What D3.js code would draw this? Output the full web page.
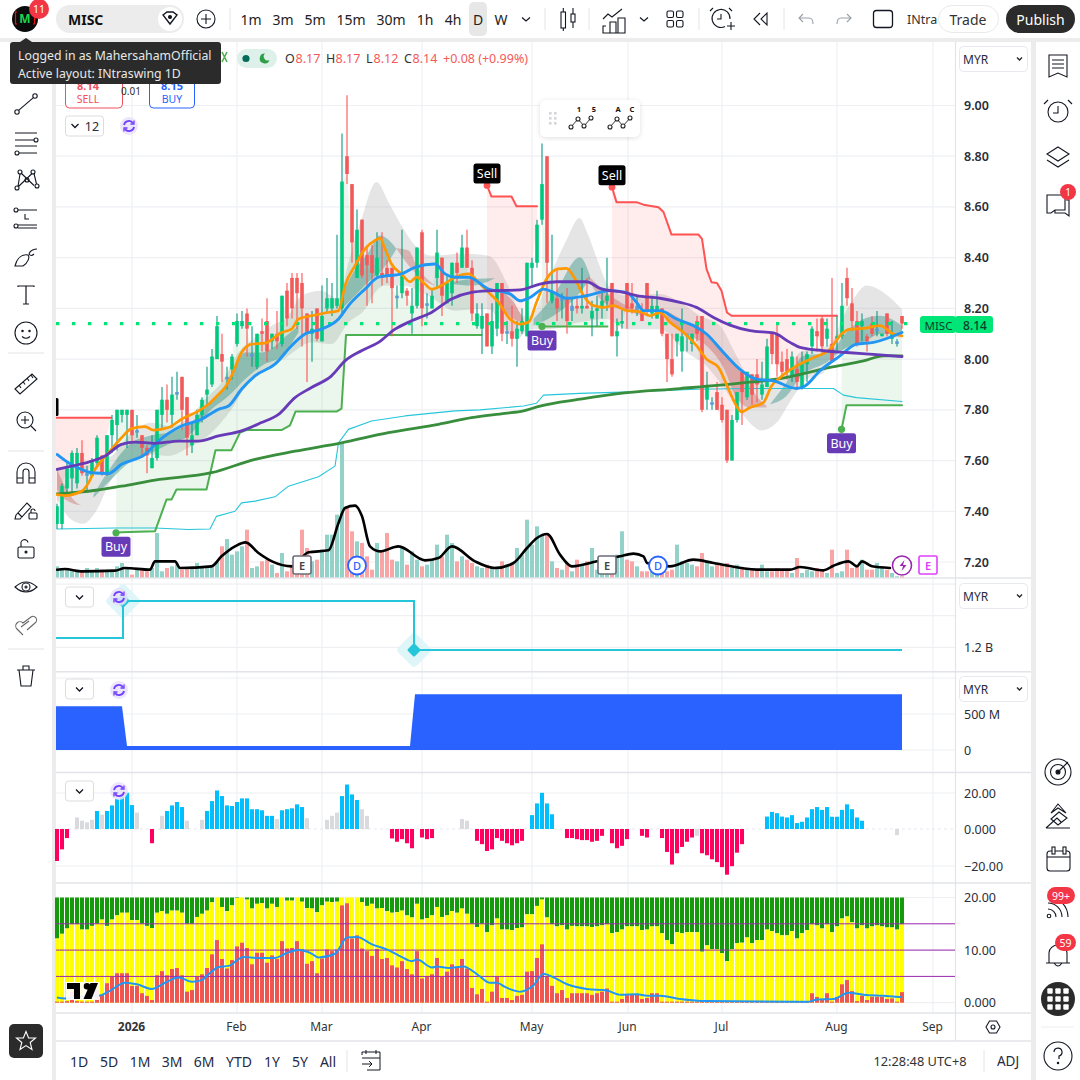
<!DOCTYPE html>
<html><head><meta charset="utf-8">
<script src="https://cdn.jsdelivr.net/npm/d3@7/dist/d3.min.js"></script>
<style>html,body{margin:0;padding:0;background:#ececec;overflow:hidden}svg{display:block;font-family:"Noto Sans",sans-serif}</style>
</head><body><svg id="c" width="1080" height="1080" xmlns="http://www.w3.org/2000/svg"></svg>
<script>
// ---------- candles ----------
const opens=[7.35,7.35,7.49,7.53,7.51,7.63,7.54,7.54,7.59,7.62,
7.55,7.70,7.74,7.78,7.78,7.80,7.71,7.70,7.65,7.57,
7.61,7.78,7.84,7.78,7.86,7.93,7.85,7.66,7.70,7.78,
7.86,7.90,8.00,8.02,7.92,7.96,8.06,8.13,8.18,8.01,
7.97,8.11,8.15,8.07,8.10,8.06,8.27,8.32,8.32,8.30,
8.18,8.10,8.20,8.07,8.20,8.20,8.21,8.20,8.80,8.69,
8.32,8.55,8.41,8.41,8.33,8.34,8.36,8.36,8.24,8.26,
8.27,8.18,8.21,8.50,8.21,8.20,8.32,8.40,8.22,8.26,
8.38,8.36,8.44,8.36,8.13,8.12,8.18,8.05,8.12,8.30,
8.10,8.11,8.08,8.11,8.09,8.36,8.38,8.55,8.80,8.23,
8.24,8.23,8.24,8.19,8.21,8.20,8.21,8.16,8.19,8.21,
8.23,8.30,8.09,8.14,8.30,8.22,8.19,8.19,8.30,8.18,
8.16,8.20,8.10,8.00,8.07,8.03,8.09,8.06,8.15,8.17,
7.84,7.82,7.87,7.82,7.80,7.60,7.76,7.95,7.85,7.94,
7.94,7.86,7.89,8.10,8.10,7.99,8.00,7.93,7.96,7.89,
7.98,8.05,8.11,8.16,8.08,8.06,8.08,8.09,8.32,8.22,
8.15,8.13,8.09,8.14,8.11,8.09,8.18,8.08,8.06,8.17];
const closes=[7.42,7.50,7.57,7.63,7.63,7.55,7.55,7.60,7.69,7.55,
7.70,7.76,7.80,7.80,7.80,7.70,7.72,7.65,7.62,7.61,
7.80,7.84,7.80,7.86,7.87,7.80,7.69,7.70,7.78,7.84,
7.88,8.01,8.13,7.99,7.93,8.01,8.15,8.15,8.12,8.02,
8.10,8.10,8.03,8.10,8.07,8.25,8.16,8.20,8.26,8.20,
8.10,8.12,8.08,8.17,8.24,8.24,8.24,8.70,8.73,8.46,
8.51,8.33,8.37,8.34,8.40,8.32,8.33,8.28,8.25,8.33,
8.25,8.21,8.44,8.20,8.22,8.25,8.42,8.25,8.30,8.38,
8.34,8.44,8.36,8.18,8.18,8.17,8.05,8.15,8.30,8.10,
8.11,8.08,8.12,8.15,8.38,8.38,8.53,8.69,8.38,8.27,
8.20,8.24,8.15,8.21,8.20,8.21,8.20,8.19,8.20,8.23,
8.25,8.09,8.11,8.15,8.20,8.20,8.21,8.15,8.19,8.21,
8.21,8.10,8.00,7.94,8.10,8.09,8.10,8.10,8.10,7.80,
7.89,7.83,7.80,7.76,7.60,7.76,7.87,7.87,7.95,7.86,
7.90,7.90,8.05,8.02,7.98,7.95,7.95,8.01,7.91,7.98,
8.02,8.12,8.09,8.05,8.12,7.99,8.09,8.21,8.24,8.15,
8.06,8.15,8.07,8.10,8.12,8.10,8.10,8.10,8.07,8.14];
const highs=[7.43,7.51,7.59,7.64,7.65,7.68,7.58,7.61,7.70,7.62,
7.70,7.78,7.80,7.80,7.80,7.80,7.78,7.70,7.66,7.70,
7.80,7.89,7.90,7.93,7.95,7.93,7.85,7.75,7.80,7.85,
7.97,8.04,8.17,8.10,7.97,8.02,8.18,8.19,8.20,8.13,
8.10,8.16,8.24,8.10,8.19,8.25,8.30,8.34,8.34,8.34,
8.18,8.19,8.20,8.29,8.32,8.30,8.49,8.89,9.04,8.69,
8.59,8.55,8.45,8.45,8.50,8.50,8.39,8.36,8.29,8.51,
8.28,8.28,8.44,8.51,8.26,8.28,8.51,8.40,8.33,8.38,
8.42,8.49,8.51,8.39,8.22,8.22,8.18,8.22,8.30,8.30,
8.15,8.21,8.15,8.20,8.38,8.40,8.55,8.85,8.80,8.49,
8.36,8.26,8.28,8.24,8.24,8.36,8.32,8.23,8.25,8.28,
8.40,8.30,8.16,8.20,8.30,8.30,8.25,8.22,8.30,8.25,
8.27,8.20,8.10,8.10,8.10,8.20,8.10,8.10,8.17,8.17,
7.95,7.85,7.91,7.85,7.80,7.78,7.87,7.95,7.95,7.94,
8.00,7.99,8.08,8.10,8.14,8.03,8.04,8.03,8.01,8.03,
8.03,8.13,8.16,8.17,8.16,8.32,8.17,8.30,8.36,8.28,
8.19,8.18,8.10,8.17,8.19,8.10,8.18,8.15,8.08,8.17];
const lows=[7.33,7.33,7.47,7.47,7.49,7.54,7.48,7.54,7.58,7.54,
7.54,7.63,7.64,7.75,7.65,7.67,7.69,7.61,7.55,7.57,
7.60,7.72,7.75,7.73,7.84,7.72,7.62,7.63,7.70,7.75,
7.82,7.89,8.00,7.91,7.88,7.92,8.05,8.12,8.01,7.97,
7.96,8.03,7.99,8.04,8.04,8.05,8.13,8.16,8.12,8.05,
7.91,7.99,8.07,8.07,8.18,8.17,8.20,8.18,8.69,8.38,
8.32,8.32,8.21,8.22,8.32,8.29,8.30,8.09,8.20,8.24,
8.21,8.10,8.20,8.13,8.16,8.20,8.28,8.17,8.22,8.21,
8.30,8.36,8.36,8.15,8.12,8.02,8.05,8.02,8.09,8.07,
8.06,8.05,7.97,8.10,8.09,8.28,8.36,8.53,8.22,8.22,
8.15,8.16,8.10,8.15,8.18,8.18,8.20,8.09,8.13,8.16,
8.19,8.09,8.01,8.12,8.12,8.18,8.17,8.15,8.17,8.16,
8.16,8.09,7.91,7.93,8.01,7.95,8.03,8.03,8.07,7.79,
7.80,7.80,7.80,7.75,7.59,7.60,7.75,7.74,7.84,7.82,
7.83,7.84,7.89,7.98,7.93,7.93,7.92,7.91,7.89,7.88,
7.91,8.02,8.03,8.02,8.05,7.99,8.03,8.08,8.21,8.11,
8.05,8.07,8.03,8.09,8.09,8.09,8.09,8.06,8.05,8.12];
const dojiBars=[6,16,24,34,39,68,74,90,101,103,116,126,131,164,168];
// ---------- volume (millions) ----------
const volumes=[3.5,3,2.5,2,2.5,2,3,2,3,2.5,
2.5,2,3.5,4.5,3,1,2.5,3,2.5,3,
13.5,2,3,3.5,4,2.5,3,3.5,4.5,3,
3.5,3.5,5,9.5,11.7,7,8,9.5,14.5,3,
3.5,5,5.5,4,1.5,7.5,2,4,5,14.5,
9,5,5.5,8.5,13,13,19,40.5,21.5,14,
11,10.5,6.5,2.5,10.5,8,13.5,5.5,5,9,
4,8,5.5,3.5,4,5.5,10,6.5,13,10.5,
5,6.5,5.5,4.5,3.5,3,4,3,3.5,5,
4,4.5,9,7,17.5,10,15.5,13,13.5,5,
3,2.5,4.5,2,5.5,4,5,9,2.5,2,
2,2,7,14,5.5,5,3.5,2,2,2.5,
2,3,2,2.5,10,5,4.5,4,3.5,7.5,
5,3.5,4.5,4,4.5,3,4,3,2.5,2.5,
2.5,4,2,2,3,2.5,2.5,1.5,6,1.5,
2.5,2,3,2.5,1.5,8.5,1.5,2,8.5,3,
4,5.5,2.5,2.5,4.5,3,2.5,1.5,.5,.5];
const volumeAvg=[[0,2.5],[1.6,2.7],[4.9,2],[11.6,2.2],[13.6,3],[18.6,2.5],[19.6,5],[23.6,5],[24.6,3],[30.9,3.5],[32.9,6.5],[35.6,9.5],[37.7,10.7],[40.3,7.5],[43,5],[47,3.5],[50.3,7.7],[54.3,8.3],[56.3,16.5],[57.6,21],[59.6,21.7],[61,18.5],[62.6,9.5],[64.6,8],[68.3,9.5],[73.6,5.3],[76.3,6],[79,9.5],[83.6,5],[87.6,3],[91.3,4.5],[94,9],[96,12],[98,13.2],[100.6,7],[103,3.5],[108,5],[112.6,6.5],[115.3,7.3],[117.3,6.5],[118,4.5],[122.6,3.5],[127.3,5.5],[131.3,4.5],[140,2.5],[146.6,2.5],[148.6,3.3],[153.3,2.3],[155.3,3.7],[158.3,5],[160,3.5],[161,5],[163,3.5],[166.6,3]];
// ---------- moving averages [bar, price] ----------
const orangeLine=[[0,7.466],[1.6,7.462],[4.9,7.479],[6.3,7.512],[7.6,7.565],[10.3,7.631],[12.9,7.69],[14.9,7.726],[17.6,7.734],[19.3,7.72],[22.3,7.73],[24.9,7.763],[28.3,7.796],[30.3,7.822],[32.3,7.861],[33.6,7.888],[34.9,7.934],[36.9,8.026],[38.9,8.059],[41.6,8.063],[44.9,8.105],[46.9,8.118],[48.3,8.158],[50.9,8.171],[53.6,8.182],[56.3,8.191],[57.6,8.29],[59.6,8.369],[61.6,8.435],[63.6,8.468],[64.6,8.477],[65.6,8.435],[66.9,8.375],[68.9,8.336],[70.6,8.305],[71.9,8.323],[73.6,8.296],[74.9,8.276],[76.9,8.29],[79.6,8.323],[82.3,8.336],[84.3,8.303],[86.3,8.263],[88.3,8.224],[90.6,8.158],[92.6,8.138],[94.3,8.145],[95.9,8.224],[97.9,8.316],[100.3,8.356],[101.9,8.358],[103.6,8.316],[105.3,8.25],[107.3,8.211],[109.3,8.204],[111.3,8.211],[113.9,8.191],[116.6,8.187],[118.6,8.171],[120.6,8.184],[122.6,8.145],[125.3,8.105],[127.9,8.053],[129.9,8],[132.3,7.967],[134.3,7.881],[135.9,7.815],[136.9,7.792],[138.6,7.809],[141.3,7.829],[142.9,7.894],[144.6,7.927],[147.9,7.973],[151.3,8.006],[154.6,8.039],[156.9,8.099],[158.6,8.118],[161.3,8.121],[164.6,8.132],[167.3,8.099],[169,8.092]];
const blueLine=[[0,7.624],[2.3,7.591],[4.9,7.565],[6.9,7.552],[10.3,7.549],[12.9,7.585],[17.6,7.624],[20.3,7.677],[24.9,7.736],[28.9,7.763],[32.3,7.802],[34.3,7.815],[36.9,7.881],[39.6,7.934],[43.6,7.98],[46.9,8.053],[49.6,8.099],[52.9,8.118],[56.3,8.158],[58.3,8.211],[61.6,8.276],[64.3,8.323],[68.9,8.336],[71.6,8.362],[75.6,8.375],[77.6,8.336],[79.6,8.323],[82.3,8.323],[86.3,8.276],[89.6,8.263],[90.6,8.257],[92.6,8.23],[94.6,8.243],[97.3,8.276],[99.3,8.263],[101.9,8.24],[105.9,8.25],[110.6,8.27],[113.9,8.263],[115.9,8.224],[117.3,8.191],[120.6,8.191],[123.9,8.158],[127.3,8.132],[129.9,8.099],[133.3,8.026],[136.6,7.96],[139.9,7.921],[143.3,7.914],[147.9,7.884],[149.6,7.894],[152.6,7.954],[156.6,8.013],[159.9,8.059],[163.3,8.066],[169,8.105]];
const purpleLine=[[0,7.565],[2.9,7.578],[6.3,7.594],[9.6,7.618],[12.9,7.664],[15.6,7.673],[19.6,7.668],[24.3,7.677],[28.3,7.677],[32.3,7.697],[36.9,7.717],[40.9,7.75],[44.3,7.782],[47.6,7.848],[50.9,7.888],[54.9,7.934],[57.6,7.993],[60.9,8.033],[64.3,8.066],[67.6,8.118],[70.9,8.151],[74.9,8.184],[78.9,8.237],[82.9,8.263],[86.3,8.269],[88,8.27],[92.6,8.273],[96.6,8.296],[100,8.305],[105.9,8.305],[108.6,8.279],[113.3,8.263],[115.9,8.25],[120.6,8.24],[124.6,8.224],[127.9,8.204],[131.3,8.164],[134.6,8.134],[138.6,8.112],[143.3,8.103],[146.6,8.066],[148.6,8.046],[153.3,8.033],[157.9,8.026],[164.6,8.017],[169,8.01]];
const darkGreenLine=[[0,7.469],[6.3,7.479],[12.9,7.499],[19.6,7.523],[30.9,7.552],[39.6,7.605],[47.6,7.637],[56.9,7.67],[66.3,7.71],[76.3,7.743],[82.9,7.769],[89.6,7.786],[93.3,7.796],[96.6,7.815],[104.6,7.842],[112.6,7.865],[124.6,7.884],[136.6,7.905],[144.6,7.923],[154.6,7.967],[161.3,7.993],[165.3,8.013],[169,8.013]];
const cyanLine=[[0,7.33],[11.6,7.334],[19.6,7.334],[26.3,7.328],[30.6,7.33],[31.9,7.38],[35.6,7.4],[36.9,7.433],[39.6,7.44],[43.6,7.457],[46.3,7.499],[52.3,7.536],[55.6,7.578],[56.3,7.67],[58.3,7.723],[62.9,7.756],[69.6,7.776],[79.6,7.796],[84.6,7.8],[93.3,7.815],[95.9,7.826],[97.3,7.858],[104.6,7.865],[114.6,7.871],[127.9,7.881],[137.9,7.884],[155.3,7.884],[157.3,7.858],[159.9,7.848],[169,7.833]];
// ---------- trailing stops [bar, price] ----------
const supportA=[[11.8,7.315],[12.9,7.317],[19.6,7.321],[21.9,7.446],[22.9,7.446],[23.9,7.486],[29.9,7.486],[31.7,7.641],[34.9,7.641],[36.6,7.71],[37.9,7.72],[44.9,7.72],[46.6,7.739],[47.7,7.793],[55.9,7.793],[56.9,7.805],[57.8,8.095],[84.9,8.095]];
const supportB=[[97,8.129],[110.1,8.129]];
const supportC=[[156.9,7.723],[157.9,7.818],[169,7.818]];
const resistA=[[-1,7.769],[10.8,7.769]];
const resistB=[[86,8.685],[86.9,8.641],[90.9,8.641],[91.9,8.603],[96,8.603]];
const resistC=[[111,8.678],[111.9,8.619],[115.9,8.619],[117.3,8.609],[120.3,8.599],[121.3,8.58],[122.9,8.491],[128.3,8.491],[129,8.474],[129.9,8.356],[130.9,8.303],[132,8.3],[132.9,8.27],[134,8.184],[134.9,8.171],[156,8.171]];
// ---------- bands [bar, price] ----------
const grayUpper=[[0,7.565],[5.3,7.578],[10.9,7.618],[14.9,7.71],[18.9,7.749],[22.9,7.736],[26.3,7.769],[29.6,7.842],[32.9,7.908],[36.3,8.026],[39.6,8.085],[42.9,8.132],[46.3,8.171],[48.9,8.25],[52.9,8.27],[56.3,8.237],[58.3,8.382],[60.9,8.553],[63.9,8.698],[66.3,8.619],[68.9,8.527],[71.6,8.448],[74.9,8.408],[80.9,8.415],[86.3,8.408],[87.3,8.395],[89.9,8.303],[93.3,8.171],[94.6,8.171],[98.6,8.329],[102,8.474],[104.5,8.556],[106,8.5],[108,8.395],[110.3,8.29],[113.9,8.25],[120.6,8.257],[124.6,8.224],[128.6,8.171],[132.6,8.132],[135.9,8.013],[137.9,7.947],[144.6,7.921],[148.6,8.026],[154.6,8.059],[157.3,8.171],[159.3,8.237],[161.9,8.29],[165.3,8.263],[169,8.197]];
const grayLower=[[0,7.446],[2.9,7.367],[5.3,7.351],[7.6,7.394],[10.9,7.526],[14.9,7.605],[18.9,7.624],[22.3,7.618],[26.3,7.651],[30.9,7.71],[34.9,7.802],[38.3,7.908],[42.3,7.96],[46.3,8.013],[50.9,8.066],[54.9,8.059],[58.3,8.145],[61.6,8.197],[63.6,8.263],[65.6,8.29],[68.9,8.29],[74.3,8.25],[79.6,8.191],[83.6,8.197],[86.3,8.197],[89.3,8.125],[91.9,8.079],[94.6,8.118],[98.6,8.118],[104.6,8.145],[109.9,8.158],[113.9,8.118],[120.6,8.118],[125.9,8.026],[129.9,7.973],[132.6,7.908],[135.9,7.815],[137.9,7.763],[140.9,7.719],[143.9,7.749],[146.9,7.842],[149.6,7.914],[153.3,7.947],[156.6,8.026],[159.3,8.053],[163.3,8.072],[169,8.085]];
const tealA=[[[7.3,7.466],[10.9,7.578],[14.9,7.67],[18.3,7.697],[23.6,7.717],[26.3,7.743],[30.9,7.835],[34.3,7.914],[37.6,8.026],[40.9,8.026],[46.3,8.099],[48.3,8.132]],[[7.3,7.453],[10.9,7.526],[14.9,7.598],[18.3,7.624],[22.3,7.664],[26.3,7.697],[30.9,7.802],[34.3,7.855],[37.6,7.921],[40.9,7.973],[44.9,8.013],[48.3,8.105]]];
const tealB=[[[56.9,8.25],[58.9,8.329],[62.3,8.421],[64.6,8.487],[67.9,8.435]],[[56.9,8.197],[59.6,8.25],[62.9,8.316],[64.6,8.342],[67.9,8.435]]];
const tealD=[[[78.9,8.303],[83,8.316],[87.6,8.319]],[[78.9,8.296],[83,8.29],[87.6,8.319]]];
const tealF=[[[95.3,8.158],[99.3,8.25],[104.6,8.402],[106.6,8.329]],[[95.3,8.132],[99.3,8.171],[104.6,8.263],[106.6,8.316]]];
const tealI=[[[142.6,7.822],[145.9,7.908],[149.3,8.013],[154.6,8.026],[157.3,8.092],[161.3,8.158],[164.6,8.171],[169,8.132]],[[142.6,7.822],[145.9,7.855],[148.9,7.934],[153.9,7.987],[157.3,8.039],[161.3,8.066],[164.6,8.099],[169,8.099]]];
const redL=[[[0,7.565],[1.6,7.499],[3.6,7.44],[5.3,7.423],[6.9,7.46]],[[0,7.486],[1.6,7.446],[5.3,7.423],[6.9,7.46]]];
const redC=[[[67.9,8.437],[70.3,8.428],[71.9,8.369],[75.6,8.29]],[[67.9,8.435],[70.9,8.356],[72.9,8.316],[75.6,8.29]]];
const redE=[[[89.3,8.263],[91.3,8.224],[93.3,8.158]],[[89.3,8.197],[91.3,8.158],[93.3,8.145]]];
const redG=[[[106.3,8.329],[109.9,8.263],[113.9,8.211],[117.3,8.184]],[[106.3,8.316],[109.3,8.224],[113.9,8.191],[117.3,8.171]]];
const redH=[[[121.9,8.191],[125.9,8.145],[129.9,8.092],[133.9,8.013],[137.3,7.934],[139.9,7.855],[141.9,7.815]],[[121.9,8.151],[125.9,8.099],[129.9,8.053],[133.3,7.967],[135.9,7.848],[138.6,7.809],[141.9,7.809]]];
// ---------- signals ----------
const buyBars=[11.8,97,156.9], buyPrices=[7.315,8.129,7.723];
const sellBars=[86,111], sellPrices=[8.685,8.678];
const eventBars=[49,60,110,120.2], eventKinds=["E","D","E","D"];
// ---------- lower panes ----------
const pane2Line=[[-0.2,1.259],[13.2,1.259],[13.2,1.493],[71.4,1.493],[71.4,1.183],[169,1.183]];
const pane3Area=[[-0.2,609],[13,609],[14,55],[70.6,55],[71.6,776],[169,776]];
const hist=[-17.3,-11,-4.9,0,6.4,4.6,3.7,5.1,10,8,
10,13.1,16.8,18.6,20.1,13.3,9.1,0,0,-7.7,
0,7.3,10,13.1,15,12.2,4.6,0,0,5.1,
10,15.5,21.4,18.3,13.1,12.8,15,17,17,11,
11,10.4,7.3,7.3,5.5,10.4,11,11.5,13.7,12.2,
6,0,0,0,5.1,7.3,9.1,18.3,24.7,19.2,
16.1,11,7.3,0,0,0,0,-5.1,-6.9,-5.5,
-7.7,-10.4,0,-4.6,-5.5,-4.9,0,0,0,0,
0,5.5,4.6,0,-6.4,-8.2,-11.9,-11,-4.9,-6.4,
-7.7,-8.8,-7.7,-6.4,0,7.7,14.2,20.1,14.2,8.2,
0,0,-4.9,-4.9,-5.5,-6,-6,-6.9,-6.4,-3.7,
0,-7.7,-10.4,-9.1,-5.5,0,0,-3.7,-4.6,0,
0,-4.9,-12.4,-19.2,-13.1,-9.7,-6.9,-4.6,-3.7,-13.1,
-14.2,-16.4,-17.9,-20.6,-24.7,-20.1,-12.8,-8.2,0,0,
0,0,6.9,9.5,8.8,6.9,6.4,7.7,3.3,4,
6.4,11,12.2,10.6,12.2,6.8,6.8,10.6,13.7,11,
6.4,4.6,0,0,0,0,0,0,-3.3,0];
const histGray=[4,5,6,7,9,16,21,26,29,44,50,54,55,56,61,62,81,82,128,168];
const stackYellow=[12.2,13.1,14.1,14.9,14.9,13.9,13.9,14.6,15,15.8,
14.6,15.8,16.6,17.1,17.1,15.7,15.7,15,14.6,14.2,
17.1,17.4,16.9,17.5,17.5,17.1,15,15,16.3,16.9,
17.5,19.1,20,18.2,17.4,18.5,19.9,20,19.6,17.9,
18.8,18.9,17.9,18.8,18.2,20,19.4,19.4,20,19.2,
18,17.9,17.2,18.5,19.2,19.1,19.2,20,20,20,
20,19.1,18.4,18.8,17.9,18,17.4,17.1,17.2,17.5,
16.6,16.2,18.8,15.8,16.1,16.6,18.2,16.3,16.6,17.4,
17.1,17.9,16.9,15,14.4,15,13.4,14.7,16,13.9,
13.9,13.8,14.2,14.3,16.8,16.8,18.4,19.6,16.2,14.9,
14.5,14.7,13.9,14.6,14.5,14.5,14.5,14.4,14.5,14.7,
14.9,13.2,13.4,13.9,14.5,14.5,14.5,13.8,13.9,14.5,
14.5,13.2,11.9,11.1,13.4,13.2,13.4,13.4,13.4,9.7,
10.9,10.2,10.2,9.4,7.9,10.2,11.3,11.4,12.4,11.3,
11.9,11.9,13.9,13.6,13.2,12.8,12.8,13.6,12.2,13.2,
13.8,14.9,14.7,14.1,14.9,13.4,14.5,16,16.4,15.3,
14.1,14.7,14.1,14.5,14.7,14.5,14.3,14.3,13.9,14.9];
const stackRed=[.2,.2,.3,2.1,.3,.2,.2,.2,2.4,1.5,
3.7,4.9,5.6,5.6,5.6,3.2,3.2,1.8,1.3,.5,
5.2,6,5.2,6.4,6.6,5.2,2.1,2.4,4.9,5.4,
6.6,9.2,11.9,8.3,6.5,8.1,10.7,11.4,10.4,7.3,
9.5,9.5,7.6,9,8.3,11.7,10.3,10.4,11.7,10.2,
7.4,7.9,5.6,8.4,10.1,9.8,10.1,18.5,18.9,12.2,
12.8,10.3,9.8,8.9,10.2,8.3,8.5,7.1,6.7,7.9,
6.4,5.4,9.8,4.6,4.9,5.4,8.5,5,5.9,7.3,
6.6,8.3,6.5,2.8,1.6,2.6,.2,2.1,4.9,.9,
.9,.5,1.3,1.5,5.9,6,8.5,11.1,4.9,3.2,
1.8,2.4,.9,1.8,1.8,1.8,1.8,1.5,1.8,2.1,
2.7,.2,.2,.7,1.5,1.5,1.5,.7,.9,1.8,
1.8,.2,.2,.2,.2,.2,.2,.2,.2,.2,
.2,.2,.2,.2,.2,.2,.2,.2,.2,.2,
.2,.2,.2,.2,.2,.2,.2,.2,.2,.2,
.2,1.8,1.1,.7,1.8,.2,1.1,3.5,4.3,2.2,
.3,1.3,.5,1.1,1.1,1.1,.7,.8,.2,2];
const stackLine=[[0,1],[1.6,.8],[3.6,1.1],[8.3,1.3],[10.3,2.1],[13.6,3.8],[16,3.5],[19,2.6],[21.6,3.8],[24.3,4.8],[27,4],[28.9,4.3],[30.9,5.9],[32.3,6.8],[34.3,7],[37.3,8.7],[40.3,8.5],[43.6,8.5],[45.6,9.3],[48.3,10],[51,9.3],[52.3,8.6],[55.6,9.3],[58,12.4],[60,12.5],[63,11.1],[66.3,10],[68.9,8.7],[70.9,7.9],[72,8.2],[75,6.7],[76,6.9],[78.3,6.6],[81.3,6.9],[84.3,5.2],[86.6,3.8],[88,3.8],[89.6,3],[92.6,2.1],[95.3,3.3],[97.3,5.5],[99.3,4.8],[102,3.5],[106,2.6],[110,2.3],[112.6,1.5],[116,1.6],[118,1.3],[120.6,1.3],[124.6,.7],[130,.3],[148.6,.2],[150.3,.2],[152,.6],[155.3,.7],[158.3,1.9],[161.3,1.5],[165.3,1.3],[168.6,1.1],[169,1.2]];
// ---------- ticks ----------
const priceTicks=[7.2,7.4,7.6,7.8,8,8.2,8.4,8.6,8.8,9];
const pane2Ticks=[1.2,1.4,1.6];
const pane3Ticks=[0,500,1000];
const histTicks=[-20,0,20];
const stackTicks=[0,10,20];
const stackLevels=[5,10,15];
const monthBars=[15,36,53,73,95,114.2,133,156,175.2];
const monthLabels=["2026","Feb","Mar","Apr","May","Jun","Jul","Aug","Sep"];
const timeframes=["1m","3m","5m","15m","30m","1h","4h","D","W"];
const timeframeX=[251,283,315,351,391,425,453,478,501];
const ranges=["1D","5D","1M","3M","6M","YTD","1Y","5Y","All"];
const rangeX=[79,109,140,172,204,239,272,300,328];

// ========== drawing ==========
const svg=d3.select("#c");
const INK="#131722", TXT="#2a2e39", NAVY="#1f2a44";
const x=d3.scaleLinear().domain([0,169]).range([57,902]);
const yP=d3.scaleLinear().domain([7.2,9]).range([562,105.5]);
const yV=d3.scaleLinear().domain([0,40.5]).range([578,443]);
const y2=d3.scaleLinear().domain([1.2,1.4]).range([647.3,615.7]);
const y3=d3.scaleLinear().domain([0,500]).range([750,714]);
const y4=d3.scaleLinear().domain([-20,0,20]).range([866,829,793]);
const y5=d3.scaleLinear().domain([0,20]).range([1002.7,897.5]);
const n=opens.length;

const rect=(p,a,b,w,h,fill,extra={})=>{const r=p.append("rect").attr("x",a).attr("y",b).attr("width",w).attr("height",h).attr("fill",fill);for(const k in extra)r.attr(k,extra[k]);return r;};
const text=(p,a,b,s,o={})=>p.append("text").attr("x",a).attr("y",b).attr("fill",o.fill||TXT).attr("font-size",o.size||14).attr("font-weight",o.weight||400).attr("text-anchor",o.anchor||"middle").attr("dominant-baseline","central").text(s);

// panels
rect(svg,0,0,1080,1080,"#ececec");
rect(svg,0,0,1080,38,"#fff");
rect(svg,0,42,52,1038,"#fff");
rect(svg,56,42,975,1038,"#fff");
rect(svg,1036,42,44,1038,"#fff");

const chart=svg.append("g");
const clipDefs=svg.append("defs");
clipDefs.append("clipPath").attr("id","mainClip").append("rect").attr("x",56).attr("y",42).attr("width",899).attr("height",536);
// grids
const gridV=chart.append("g").attr("stroke","#eef0f4").attr("stroke-width",1.2);
monthBars.forEach(b=>gridV.append("line").attr("x1",x(b)).attr("x2",x(b)).attr("y1",42).attr("y2",1013));
const hGrid=(ticks,sc)=>{chart.append("g").attr("stroke","#eef0f4").attr("stroke-width",1.2).selectAll("line").data(ticks).join("line").attr("x1",56).attr("x2",955).attr("y1",d=>sc(d)).attr("y2",d=>sc(d));};
hGrid(priceTicks,yP);hGrid(pane2Ticks,y2);hGrid(pane3Ticks,y3);hGrid([-20,20],y4);hGrid(stackTicks,y5);

const main=chart.append("g").attr("clip-path","url(#mainClip)");
const L=d3.line().x(d=>x(d[0])).y(d=>yP(d[1]));
const band=(up,lo,fill)=>main.append("path").attr("fill",fill).attr("d",L.curve(d3.curveMonotoneX)(up)+"L"+L.curve(d3.curveMonotoneX)(lo.slice().reverse()).slice(1)+"Z");
// gray band
band(grayUpper,grayLower,"rgba(150,150,150,0.25)");
// trailing stop fills (stop line to close)
const closePts=(a,b)=>d3.range(a,b+1).map(i=>[i,closes[i]]);
const stopFill=(stop,a,b,fill)=>main.append("path").attr("fill",fill).attr("d",L.curve(d3.curveLinear)(closePts(a,b))+"L"+L.curve(d3.curveLinear)(stop.slice().reverse()).slice(1)+"Z");
stopFill(supportA,12,85,"rgba(76,175,80,0.11)");
stopFill(supportB,97,110,"rgba(76,175,80,0.11)");
stopFill(supportC,157,169,"rgba(76,175,80,0.11)");
stopFill(resistA,0,10,"rgba(255,82,82,0.13)");
stopFill(resistB,86,96,"rgba(255,82,82,0.11)");
stopFill(resistC,111,156,"rgba(255,82,82,0.11)");
// clouds
[tealA,tealB,tealD,tealF,tealI].forEach(c=>band(c[0],c[1],"rgba(0,121,107,0.33)"));
[redL,redC,redE,redG,redH].forEach(c=>band(c[0],c[1],"rgba(190,60,60,0.3)"));
// volume
main.append("g").selectAll("rect").data(volumes).join("rect").attr("x",(d,i)=>x(i)-2).attr("width",4).attr("y",d=>yV(d)).attr("height",d=>578-yV(d)).attr("fill",(d,i)=>closes[i]>=opens[i]?"#93d2c9":"#f9a5a5");
const drawLine=(data,color,w,curve,yFn)=>main.append("path").attr("fill","none").attr("stroke",color).attr("stroke-width",w).attr("stroke-linejoin","round").attr("stroke-linecap","round").attr("d",d3.line().x(d=>x(d[0])).y(d=>(yFn||yP)(d[1])).curve(curve||d3.curveLinear)(data));
drawLine(cyanLine,"#26c6da",1.1);
[supportA,supportB,supportC].forEach(s=>drawLine(s,"#4caf50",2));
[resistA,resistB,resistC].forEach(s=>drawLine(s,"#ff5252",2));
// candles
const cg=main.append("g");
d3.range(n).forEach(i=>{
  const up=closes[i]>=opens[i], wick=up?"#089981":"#ff5252", doji=dojiBars.includes(i);
  cg.append("line").attr("x1",x(i)).attr("x2",x(i)).attr("y1",yP(highs[i])).attr("y2",yP(lows[i])).attr("stroke",wick).attr("stroke-width",1.1);
  const t=yP(Math.max(opens[i],closes[i])), b=yP(Math.min(opens[i],closes[i]));
  rect(cg,x(i)-1.8,t,3.6,Math.max(1.5,b-t),doji?"#5b9bd5":(up?"#00c97f":"#f25a5a"));
});
// price dotted line
main.append("line").attr("x1",56).attr("x2",920).attr("y1",yP(closes[n-1])).attr("y2",yP(closes[n-1])).attr("stroke","#00e676").attr("stroke-width",3.4).attr("stroke-dasharray","3.4 12.6");
// MAs
drawLine(darkGreenLine,"#388e3c",2.8,d3.curveMonotoneX);
drawLine(orangeLine,"#ff9800",2.7,d3.curveMonotoneX);
drawLine(blueLine,"#2196f3",2.9,d3.curveMonotoneX);
drawLine(purpleLine,"#673ab7",2.8,d3.curveMonotoneX);
drawLine(volumeAvg,"#000",2.6,d3.curveMonotoneX,yV);
// left clipped sell flag
rect(main,54,398,4.5,18,"#000",{rx:1.5});
// buy / sell flags
buyBars.forEach((b,i)=>{
  const bx=x(b), py=yP(buyPrices[i]);
  const g=chart.append("g");
  g.append("circle").attr("cx",bx).attr("cy",py).attr("r",3.6).attr("fill","#4caf50");
  rect(g,bx-14.5,py+4,29,20,"#673ab7",{rx:2.5});
  text(g,bx,py+14,"Buy",{fill:"#fff",size:12.5});
});
sellBars.forEach((b,i)=>{
  const bx=x(b), py=yP(sellPrices[i]);
  const g=chart.append("g");
  g.append("circle").attr("cx",bx).attr("cy",py).attr("r",3.4).attr("fill","#ff5252");
  rect(g,bx-13.5,py-22,27,20,"#000",{rx:2.5});
  text(g,bx,py-12,"Sell",{fill:"#fff",size:12.5});
});
// earnings / dividend markers
eventBars.forEach((b,i)=>{
  const g=chart.append("g"), cx=x(b);
  if(eventKinds[i]==="E"){rect(g,cx-9,556,18,18,"#fff",{stroke:"#6a6d78","stroke-width":1.6,rx:2});text(g,cx,565.5,"E",{size:11,weight:600,fill:"#444"});}
  else{g.append("circle").attr("cx",cx).attr("cy",565.5).attr("r",9).attr("fill","#fff").attr("stroke","#2962ff").attr("stroke-width",1.8);text(g,cx,565.5,"D",{size:11,weight:500,fill:"#2962ff"});}
});
(()=>{const g=chart.append("g");
 g.append("circle").attr("cx",902).attr("cy",565.5).attr("r",9.5).attr("fill","#fff").attr("stroke","#9c27b0").attr("stroke-width",1.6);
 g.append("path").attr("d","M904.5 560l-5 6h3.6l-1.5 5 5-6h-3.6z").attr("fill","#9c27b0");
 rect(g,919,556,18,18,"#fff",{stroke:"#e040fb","stroke-width":1.6,rx:1.5});text(g,928,565.5,"E",{size:11,weight:600,fill:"#e040fb"});
})();

// pane separators
[578,671.7,772.5,883,1013,1041].forEach(v=>chart.append("line").attr("x1",56).attr("x2",1031).attr("y1",v).attr("y2",v).attr("stroke","#e3e4ea").attr("stroke-width",1.4));
chart.append("line").attr("x1",955.5).attr("x2",955.5).attr("y1",42).attr("y2",1041).attr("stroke","#e3e4ea").attr("stroke-width",1.2);

// pane 2
const p2=chart.append("g");
const L2=d3.line().x(d=>x(d[0])).y(d=>y2(d[1]));
[[pane2Line[1][0],pane2Line[2][1]],[pane2Line[3][0],pane2Line[4][1]]].forEach(d=>{
  const cx=x(d[0]),cy=y2(d[1]);
  p2.append("rect").attr("x",cx-13).attr("y",cy-13).attr("width",26).attr("height",26).attr("rx",4).attr("fill","#dff6f9").attr("transform",`rotate(45 ${cx} ${cy})`);
  p2.append("rect").attr("x",cx-5).attr("y",cy-5).attr("width",10).attr("height",10).attr("rx",1.5).attr("fill","#26c6da").attr("transform",`rotate(45 ${cx} ${cy})`);
});
p2.append("path").attr("fill","none").attr("stroke","#26c6da").attr("stroke-width",2).attr("d",L2(pane2Line));

// pane 3
chart.append("path").attr("fill","#2962ff").attr("d",d3.area().x(d=>x(d[0])).y0(y3(0)).y1(d=>y3(d[1]))(pane3Area));

// pane 4
chart.append("line").attr("x1",56).attr("x2",955).attr("y1",y4(0)).attr("y2",y4(0)).attr("stroke","#e6e8ee").attr("stroke-width",1.2).attr("stroke-dasharray","3 3");
chart.append("g").selectAll("rect").data(hist).join("rect").attr("x",(d,i)=>x(i)-2).attr("width",4).attr("y",d=>Math.min(y4(d),y4(0))).attr("height",d=>Math.abs(y4(d)-y4(0))).attr("fill",(d,i)=>histGray.includes(i)?"#d9dadd":(d>0?"#00bfff":"#ff0060"));

// pane 5
const p5=chart.append("g");
p5.selectAll(".g").data(stackYellow).join("rect").attr("x",(d,i)=>x(i)-2).attr("width",4).attr("y",y5(20)).attr("height",d=>y5(d)-y5(20)).attr("fill","#159a0b");
p5.selectAll(".y").data(stackYellow).join("rect").attr("x",(d,i)=>x(i)-2).attr("width",4).attr("y",d=>y5(d)).attr("height",d=>y5(0)-y5(d)).attr("fill","#ffff00");
p5.selectAll(".r").data(stackRed).join("rect").attr("x",(d,i)=>x(i)-2).attr("width",4).attr("y",d=>y5(d)).attr("height",d=>y5(0)-y5(d)).attr("fill","#f0554f");
p5.selectAll(".l").data(stackLevels).join("line").attr("x1",56).attr("x2",955).attr("y1",d=>y5(d)).attr("y2",d=>y5(d)).attr("stroke","#9c27b0").attr("stroke-width",1);
p5.append("path").attr("fill","none").attr("stroke","#2196f3").attr("stroke-width",2).attr("d",d3.line().x(d=>x(d[0])).y(d=>y5(d[1])).curve(d3.curveMonotoneX)(stackLine));
// TV logo
(()=>{const g=chart.append("g").attr("transform","translate(67,983)");
 rect(g,-1,-1,33,18,"#fff",{opacity:.9});
 g.append("path").attr("fill","#000").attr("d","M0 0h13v16h-6V6H0zM20 0a3.3 3.3 0 1 1 0 6.6a3.3 3.3 0 0 1 0-6.6zM23.5 0H31L24.5 16H16.5z");
})();

// axes
const styleAxis=(g,size,weight)=>{g.select(".domain").remove();g.selectAll(".tick line").remove();g.selectAll("text").attr("font-family",'"Noto Sans",sans-serif').attr("font-size",size).attr("font-weight",weight||400).attr("fill",TXT).attr("x",0).attr("text-anchor","start");};
const axisAt=(sc,ticks,fmt,weight)=>{const g=svg.append("g").attr("transform","translate(964,0)").call(d3.axisRight(sc).tickValues(ticks).tickFormat(fmt).tickSize(0));styleAxis(g,12.5,weight);};
axisAt(yP,priceTicks,d3.format(".2f"),600);
axisAt(y2,[1.2],d=>d.toFixed(1)+" B");
axisAt(y3,[0,500],d=>d?d+" M":"0");
axisAt(y4,histTicks,d=>d===0?"0.000":(d<0?"\u2212":"")+Math.abs(d).toFixed(2));
axisAt(y5,stackTicks,d=>d===0?"0.000":d.toFixed(2));
const tg=svg.append("g").attr("transform","translate(-1,1019)").call(d3.axisBottom(x).tickValues(monthBars).tickFormat((d,i)=>monthLabels[i]).tickSize(0));
tg.select(".domain").remove();
tg.selectAll("text").attr("font-family",'"Noto Sans",sans-serif').attr("font-size",12).attr("fill","#333").attr("font-weight",(d,i)=>i===0?700:400);

// price label
rect(svg,920,316,36,17,"#00e676",{rx:3});
text(svg,938.5,325,"MISC",{size:11.5,fill:"#0b3d2a"});
rect(svg,955,316,38,17,"#00e676",{rx:3});
text(svg,975,325,"8.14",{size:12,fill:"#0b3d2a",weight:500});

// MYR selectors
[59,596,689].forEach(v=>{rect(svg,959.5,v-12.5,68,25,"#fff",{stroke:"#e8e9ee",rx:4});text(svg,963,v,"MYR",{anchor:"start",size:12,fill:NAVY});svg.append("path").attr("d",`M1017 ${v-1.5}l2.5 2.5l2.5-2.5`).attr("fill","none").attr("stroke","#222").attr("stroke-width",1.3);});

// ---------- icons ----------
const ICON=(cx,cy,html,col)=>svg.append("g").attr("transform",`translate(${cx},${cy})`).attr("fill","none").attr("stroke",col||INK).attr("stroke-width",1.1).html(html);
// top bar
svg.append("circle").attr("cx",25).attr("cy",19).attr("r",13).attr("fill","#0b0b0b");
text(svg,25,18,"M",{size:12,weight:700,fill:"#16d64b"});
svg.append("path").attr("d","M17 12h-1.5v12h1.5M33 12h1.5v12h-1.5").attr("fill","none").attr("stroke","#e11").attr("stroke-width",1.2);
svg.append("circle").attr("cx",39).attr("cy",9).attr("r",10).attr("fill","#f23645");
text(svg,39,9,"11",{size:10.5,fill:"#fff"});
rect(svg,56,5,128,28,"#ececec",{rx:14});
text(svg,68,19.5,"MISC",{anchor:"start",weight:700,size:14,fill:"#111"});
svg.append("circle").attr("cx",170).attr("cy",19).attr("r",12).attr("fill","#fff");
ICON(170,19,'<path d="M-7-4L-3-7H3L7-4L0 5Z" stroke-width="1.4"/><circle r="1.5" cy="-2" fill="#111"/>');
ICON(206,19,'<circle r="9" /><path d="M-5 0H5M0-5V5"/>');
[230,545,589,699,784].forEach(v=>svg.append("line").attr("x1",v).attr("x2",v).attr("y1",8).attr("y2",30).attr("stroke","#e4e4e8"));
rect(svg,469,2,18,34,"#e7e7e7",{rx:5});
timeframes.forEach((t,i)=>text(svg,timeframeX[i],19.5,t,{size:14,fill:"#222"}));
ICON(526,19,'<path d="M-4-1.5L0 2L4-1.5" stroke-width="1.2"/>');
ICON(568,19,'<rect x="-7" y="-7" width="4.5" height="16"/><path d="M-4.7-11V-7M-4.7 9V12"/><rect x="3" y="-5" width="4" height="8"/><path d="M5-11V-5M5 3V9"/>');
ICON(614,19,'<path d="M-11 0L-6-5L-2-2L8-10"/><path d="M-8 7h-3v7h22V-1h-7V14M-4 14V3H2V14"/>');
ICON(644,19,'<path d="M-4-1.5L0 2L4-1.5" stroke-width="1.2"/>');
ICON(675,19,'<rect x="-8" y="-8" width="6.5" height="6.5" rx="1.5"/><rect x="1.5" y="-8" width="6.5" height="6.5" rx="1.5"/><rect x="-8" y="1.5" width="6.5" height="6.5" rx="1.5"/><rect x="1.5" y="1.5" width="6.5" height="6.5" rx="1.5"/>');
ICON(722,19,'<path d="M3 7.5A9 9 0 1 1 8 0"/><path d="M-1-5V0H-5M5 7H13M9 3V11M-9-11L-12-8M7-11L10-8"/>');
ICON(761,19,'<path d="M-1-6L-7 0L-1 6M6-6V6L0 0Z"/>');
ICON(806,19,'<path d="M-3-5L-7-1L-3 3M-7-1H3Q7-1 7 5"/>',"#9aa0a8");
ICON(844,19,'<path d="M3-5L7-1L3 3M7-1H-3Q-7-1-7 5"/>',"#9aa0a8");
ICON(883,19,'<rect x="-9.5" y="-8.5" width="19" height="17" rx="3" stroke-width="1.3"/>');
text(svg,907,19.5,"INtra",{anchor:"start",size:12.5,fill:"#333"});
rect(svg,938.5,5.5,60,27,"#fff",{stroke:"#eaeaea",rx:13.5});
text(svg,968,19.5,"Trade",{size:14,fill:"#333"});
rect(svg,1006,5,69,28,"#2b2b2b",{rx:14});
text(svg,1040.5,19.5,"Publish",{size:14,fill:"#fff"});

// legend row
ICON(224,57,'<path d="M-2-5L3 5M3-5L-2 5" stroke-width="1.6"/>',"#4caf50");
rect(svg,237,49,40,19,"#ddf0ea",{rx:9.5});
svg.append("circle").attr("cx",246).attr("cy",58.5).attr("r",3.6).attr("fill","#006d5b");
svg.append("path").attr("d","M265 53.5a5 5 0 1 0 4.5 6.5a4 4 0 0 1-4.5-6.5z").attr("fill","#2e9e48");
const RED="#f55a5a";
[["O",285],["H",326],["L",366],["C",404]].forEach(([s,a])=>text(svg,a,58.5,s,{anchor:"start",size:12.5,fill:"#333"}));
[["8.17",295.5],["8.17",335.5],["8.12",373.5],["8.14",412.5],["+0.08 (+0.99%)",443]].forEach(([s,a])=>text(svg,a,58.5,s,{anchor:"start",size:12.5,fill:RED}));

// buy/sell tiles
rect(svg,65.5,78,57,30,"#fff",{stroke:"#f0505f",rx:4});
text(svg,88,85,"8.14",{size:11,weight:700,fill:"#f0505f"});
text(svg,88,98.5,"SELL",{size:10.5,fill:"#f0505f"});
text(svg,131,91,"0.01",{size:10,fill:"#333"});
rect(svg,149.5,78,45,30,"#fff",{stroke:"#2962ff",rx:4});
text(svg,172,85,"8.15",{size:11,weight:700,fill:"#2962ff"});
text(svg,172,98.5,"BUY",{size:10.5,fill:"#2962ff"});
// tooltip
rect(svg,10,42,211,42,"#2b2b2b",{rx:3});
svg.append("path").attr("d","M20 42l6-4l6 4z").attr("fill","#2b2b2b");
text(svg,18,55,"Logged in as MahersahamOfficial",{anchor:"start",size:12.3,fill:"#e8e8e8"});
text(svg,18,73,"Active layout: INtraswing 1D",{anchor:"start",size:12.3,fill:"#e8e8e8"});
// collapse buttons + sync icons
const sync=(cx,cy)=>{svg.append("circle").attr("cx",cx).attr("cy",cy).attr("r",9).attr("fill","#e8e2f8").attr("opacity",.85);
 ICON(cx,cy,'<path d="M-5-1A5 5 0 0 1 4-3M5 1A5 5 0 0 1-4 3" stroke-width="1.8"/><path d="M5-5.5V-2H1.5M-5 5.5V2H-1.5" stroke-width="1.3"/>',"#6f3dff");};
rect(svg,65.5,116,38,20,"#fff",{stroke:"#ddd",rx:3});
ICON(75,125.5,'<path d="M-3.5-1.5L0 2L3.5-1.5" stroke-width="1.3"/>');
text(svg,92,126,"12",{size:12.5});
sync(129,126);
[597,689,791].forEach(v=>{rect(svg,65.5,v-10,28,20,"#fff",{stroke:"#ddd",rx:3});ICON(79.5,v,'<path d="M-3.5-1.5L0 2L3.5-1.5" stroke-width="1.3"/>');});
sync(119,597);sync(119,690);sync(119,791);
// floating widget
svg.append("filter").attr("id","sh").append("feDropShadow").attr("dx",0).attr("dy",1).attr("stdDeviation",2.5).attr("flood-opacity",.13);
rect(svg,540,100,100,37,"#fff",{rx:6,filter:"url(#sh)"});
d3.range(3).forEach(r=>[0,1].forEach(c=>rect(svg,549+c*5,112+r*5,2.6,2.6,"#d6d6da")));
const wave=(cx)=>ICON(cx,122,'<path d="M-11 5L-4-3L2 4L9-4" stroke-width=".9"/>'+[[-11,5],[-4,-3],[2,4],[9,-4]].map(p=>`<circle cx="${p[0]}" cy="${p[1]}" r="2" fill="#fff"/>`).join(""),"#222");
wave(582);wave(621);
[["1",579,108.5],["5",594,108.5],["A",618,108.5],["C",632,108.5]].forEach(([s,a,b])=>text(svg,a,b,s,{size:7.5,weight:700,fill:"#111"}));

// left toolbar
ICON(26,104,'<circle cx="-9" cy="8" r="2.2"/><circle cx="9" cy="-8" r="2.2"/><path d="M-7.4 6.4L7.4-6.4"/>');
ICON(26,143,'<path d="M-11-10H11M-11-3H8M-11 3H11M-7 10H11"/><circle cx="10" cy="-3" r="2"/><circle cx="-9" cy="10" r="2"/>');
ICON(26,180,'<circle cx="-9" cy="8" r="2"/><circle cx="-6" cy="-8" r="2"/><circle cx="1" cy="0" r="2"/><circle cx="7" cy="-8" r="2"/><circle cx="11" cy="6" r="2"/><path d="M-8 6.5L-6-6M-5-7L8 5.5M6-6.5L-7.5 6.5M8-6.5L10.5 4"/>');
ICON(26,218,'<path d="M-8-8H11M-8 7H11M-8 10H11"/><circle cx="-10" cy="-8" r="2"/><circle cx="-10" cy="8" r="2"/><path d="M-1-4V1H3"/>');
ICON(26,257,'<path d="M-11 9C-9 1-4-3 2-2C4 0 2 6-3 9ZM3-3C4-7 9-8 11-8"/><path d="M3-3Q5 0 8-3"/>');
ICON(26,295,'<path d="M-8-8V-9H8V-8M0-9V9M-3 9H3" stroke-width="1.2"/>');
ICON(26,333,'<circle r="11"/><circle cx="-3.5" cy="-2" r=".7" fill="#111"/><circle cx="3.5" cy="-2" r=".7" fill="#111"/><path d="M-4 3.5Q0 7 4 3.5"/>');
[353,451,649].forEach(v=>svg.append("line").attr("x1",8).attr("x2",44).attr("y1",v).attr("y2",v).attr("stroke","#ededed").attr("stroke-width",1.4));
ICON(26,384,'<path d="M-11 5L6-10L11-5L-6 10Z M-7 1L-5 4M-3-2.5L-1 .5M1-6L3-3M5-9L7-6"/>');
ICON(26,421,'<circle cx="-1" cy="-1" r="8"/><path d="M-5-1H3M-1-5V3M5 5L10 10"/>');
ICON(26,473,'<path d="M-9 10V-1A9 9 0 0 1 9-1V10H3V-1A3 3 0 0 0-3-1V10ZM-9 5H-3M3 5H9"/>');
ICON(26,510,'<path d="M-10 5L1-7L5-3L-6 9L-11 9ZM-8 3L-4 7"/><rect x="3" y="3" width="8" height="6" rx="1"/><path d="M5 3V1A2 2 0 0 1 9 1"/>');
ICON(26,549,'<rect x="-8" y="-2" width="16" height="11" rx="1.5"/><path d="M-5-2V-5A3.5 3.5 0 0 1 2-6.5"/><circle cy="3" r="1" fill="#111"/>');
ICON(26,587,'<path d="M-11 0Q0-10 11 0Q0 10-11 0Z"/><circle r="4"/><circle r="1"/>');
ICON(26,626,'<path d="M-3 9L-9 3A2.8 2.8 0 0 1-3-3L5-9A3.3 3.3 0 0 1 9-3L1 4" stroke="#666"/><path d="M-5 1L3-5" stroke="#666"/>');
ICON(26,676,'<path d="M-9-6H9M-3-6V-10H3V-6M-7-6L-5 10H5L7-6"/>');
rect(svg,9,1024,34,34,"#2b2b2b",{rx:5});
ICON(26,1041,'<path d="M0-9.5L2.6-3L9.5-3L4.2 1.5L6 8.5L0 4.6L-6 8.5L-4.2 1.5L-9.5-3L-2.6-3Z"/>',"#fff");

// right toolbar
ICON(1058,66,'<path d="M-9-11H9V11L0 7L-9 11ZM-6-6H6M-6-2H6M-6 2H6"/>');
ICON(1058,111,'<circle r="10" cy="1"/><path d="M0-5V2H-5M-10-11L-14-7M10-11L14-7"/>');
ICON(1058,157,'<path d="M0-10L11-3L0 4L-11-3ZM-11 3L0 10L11 3"/>');
ICON(1058,204,'<path d="M-11-9H7V6H-3L-7 9H-11ZM-3 6V9H7L11 12V-4H8"/>');
svg.append("circle").attr("cx",1068).attr("cy",192).attr("r",8).attr("fill","#f23645");text(svg,1068,192,"1",{size:10,fill:"#fff"});
ICON(1058,772,'<circle r="13"/><circle r="7.5"/><circle r="2" fill="#111"/><path d="M0 0L10-10"/>');
ICON(1058,816,'<path d="M-12 12L-1 2L3 6M12 12H-12M1-4L-7 3L0 9L9 2Z M0-12L-7-3L0-8L8-3Z"/>');
ICON(1058,860,'<rect x="-11" y="-9" width="23" height="20" rx="3"/><path d="M-11-3H12"/><rect x="-6" y="-13" width="3" height="7" fill="#fff"/><rect x="5" y="-13" width="3" height="7" fill="#fff"/>');
ICON(1058,908,'<circle cx="-9" cy="8" r="1.8"/><path d="M-10 1A8 8 0 0 1-2 9M-10-5A14 14 0 0 1 4 9M-10-11A20 20 0 0 1 10 9"/>');
rect(svg,1047,887,28,17,"#f23645",{rx:8.5});text(svg,1061,895.5,"99+",{size:10.5,fill:"#fff"});
ICON(1058,955,'<path d="M-12 8H12M-9 8V-2A9 8 0 0 1 9-2V8M-4 8Q0 14 4 8"/>');
rect(svg,1055,934,21,17,"#f23645",{rx:8.5});text(svg,1065.5,942.5,"59",{size:10.5,fill:"#fff"});
svg.append("circle").attr("cx",1058).attr("cy",999).attr("r",17).attr("fill","#2b2b2b");
[-1,0,1].forEach(a=>[-1,0,1].forEach(b=>rect(svg,1058+a*8-2.7,999+b*8-2.7,5.4,5.4,"#fff",{rx:1})));
svg.append("line").attr("x1",1041).attr("x2",1074).attr("y1",1027).attr("y2",1027).attr("stroke","#ededed");
ICON(1058,1056,'<circle r="14"/><path d="M-4-4A4 4 0 1 1 1 0V3" stroke-width="1.2"/><circle cy="7" r=".7" fill="#111"/>');
// bottom bar
ICON(993,1027,'<path d="M-7 0L-3.5-6H3.5L7 0L3.5 6H-3.5Z"/><circle r="2"/>');
ranges.forEach((t,i)=>text(svg,rangeX[i],1061,t,{size:14,fill:NAVY}));
svg.append("line").attr("x1",347).attr("x2",347).attr("y1",1050).attr("y2",1072).attr("stroke","#e4e4e8");
ICON(371,1061,'<path d="M-9-6V-9H9V9H-4M-9-3H9M-5-11V-7M5-11V-7M-9 3H1M-2 0L1 3L-2 6" stroke-width="1"/>');
text(svg,920,1061,"12:28:48 UTC+8",{size:12.8,fill:"#333"});
svg.append("line").attr("x1",984).attr("x2",984).attr("y1",1050).attr("y2",1072).attr("stroke","#e4e4e8");
text(svg,1008,1061,"ADJ",{size:13.5,fill:NAVY});
</script></body></html>
